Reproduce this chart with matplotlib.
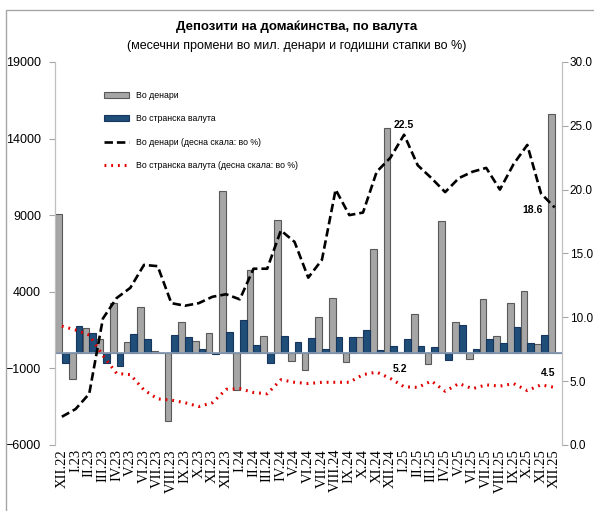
import matplotlib.pyplot as plt
import numpy as np
from matplotlib.patches import Rectangle

months = ["XII.22", "I.23", "II.23", "III.23", "IV.23", "V.23", "VI.23", "VII.23",
          "VIII.23", "IX.23", "X.23", "XI.23", "XII.23", "I.24", "II.24", "III.24",
          "IV.24", "V.24", "VI.24", "VII.24", "VIII.24", "IX.24", "X.24", "XI.24",
          "XII.24", "I.25", "II.25", "III.25", "IV.25", "V.25", "VI.25", "VII.25",
          "VIII.25", "IX.25", "X.25", "XI.25", "XII.25"]

# monthly changes, mln denars
denar_chg = [9100, -1700, 1640, 940, 3280, 720, 2980, 150, -4450, 2030, 770, 1310,
             10560, -2430, 5430, 1100, 8660, -500, -1130, 2350, 3570, -610, 1070, 6770,
             14660, 50, 2520, -700, 8600, 2030, -370, 3500, 1120, 3280, 4070, 610, 15600]
fx_chg = [-680, 1750, 1310, -630, -850, 1230, 880, -30, 1140, 1050, 280, -60,
          1360, 2140, 520, -640, 1120, 690, 960, 240, 1030, 1070, 1510, 220,
          430, 880, 440, 400, -440, 1820, 240, 940, 680, 1710, 680, 1200, 0]

# annual growth rates, % (right axis)
denar_yoy = [2.2, 2.8, 4.0, 9.9, 11.5, 12.3, 14.1, 14.0, 11.1, 10.9, 11.1, 11.6,
             11.8, 11.4, 13.8, 13.8, 16.8, 15.9, 13.1, 14.5, 20.0, 18.0, 18.2, 21.4,
             22.5, 24.3, 21.9, 20.9, 19.8, 20.9, 21.4, 21.7, 20.0, 22.0, 23.5, 19.7, 18.6]
fx_yoy = [9.3, 9.0, 8.6, 7.0, 5.6, 5.5, 4.3, 3.6, 3.5, 3.3, 3.0, 3.3,
          4.35, 4.4, 4.1, 4.0, 5.1, 4.9, 4.8, 4.9, 4.9, 4.9, 5.5, 5.7,
          5.2, 4.55, 4.5, 5.0, 4.2, 4.8, 4.4, 4.7, 4.6, 4.8, 4.25, 4.7, 4.5]

x = np.arange(len(months))
w = 0.49

fig = plt.figure(figsize=(5.94, 5.11), dpi=100)
ax = fig.add_axes([0.0926, 0.1295, 0.8527, 0.7492])
ax2 = ax.twinx()

ax.bar(x - w / 2, denar_chg, w, color="#a6a6a6", edgecolor="#595959", lw=0.8,
       label="Во денари", zorder=2)
ax.bar(x + w / 2, fx_chg, w, color="#1f4e79", edgecolor="#17365d", lw=0.8,
       label="Во странска валута", zorder=2)
ax.axhline(0, color="#8497b0", lw=1.3, zorder=3)

ax2.plot(x, denar_yoy, color="black", lw=1.9, linestyle=(0, (3.2, 1.5)),
         label="Во денари (десна скала: во %)")
ax2.plot(x, fx_yoy, color="#e00000", lw=2.2, linestyle=(0, (0.6, 1.6)),
         label="Во странска валута (десна скала: во %)")

ax.set_xlim(-0.5, len(months) - 0.5)
ax.set_ylim(-6000, 19000)
ax.set_yticks(np.arange(-6000, 19001, 5000))
ax2.set_ylim(0, 30)
ax2.set_yticks(np.arange(0, 30.1, 5))
ax2.set_yticklabels([f"{v:.1f}" for v in np.arange(0, 30.1, 5)])

ax.set_xticks(x)
ax.set_xticklabels(months, rotation=90, family="Liberation Serif", fontsize=10.5)
ax.tick_params(axis="x", length=0, pad=3)
ax.tick_params(axis="y", labelsize=9, color="#a6a6a6", length=4, pad=6)
ax2.tick_params(axis="y", labelsize=8.5, color="#a6a6a6", length=4, pad=2)
for t in ax.get_yticklabels() + ax2.get_yticklabels():
    t.set_family("Liberation Sans")

for a in (ax, ax2):
    a.spines["top"].set_visible(False)
    a.spines["bottom"].set_visible(False)
    a.spines["left"].set_color("#bfbfbf")
    a.spines["right"].set_color("#bfbfbf")
ax2.set_zorder(ax.get_zorder() + 1)
ax2.patch.set_visible(False)

# data labels
lab = dict(fontsize=7.5, fontweight="bold", family="Liberation Sans",
           textcoords="offset pixels", ha="center", va="center")
ax2.annotate(f"{denar_yoy[24]:.1f}", (24, denar_yoy[24]), xytext=(13, 33), **lab)
ax2.annotate(f"{denar_yoy[36]:.1f}", (36, denar_yoy[36]), xytext=(-22, -3), **lab)
ax2.annotate(f"{fx_yoy[24]:.1f}", (24, fx_yoy[24]), xytext=(10, 9), **lab)
ax2.annotate(f"{fx_yoy[36]:.1f}", (36, fx_yoy[36]), xytext=(-7, 14), **lab)

h1, l1 = ax.get_legend_handles_labels()
h2, l2 = ax2.get_legend_handles_labels()
ax2.legend(h1 + h2, l1 + l2, loc="upper left", bbox_to_anchor=(0.082, 0.945),
           frameon=False, prop={"family": "Liberation Sans", "size": 6.3},
           handlelength=2.8, handleheight=0.6, handletextpad=0.85,
           labelspacing=1.65)

fig.text(0.5, 0.947, "Депозити на домаќинства, по валута", ha="center", va="center",
         fontsize=9.5, fontweight="bold", family="Liberation Sans")
fig.text(0.5, 0.91, "(месечни промени во мил. денари и годишни стапки во %)",
         ha="center", va="center", fontsize=9, family="Liberation Sans")

fig.patches.append(Rectangle((6 / 594, -0.05), 1.0, 1.05 - 10 / 511,
                             transform=fig.transFigure, fill=False,
                             edgecolor="#a6a6a6", lw=1))

fig.savefig("out.png", dpi=100)
